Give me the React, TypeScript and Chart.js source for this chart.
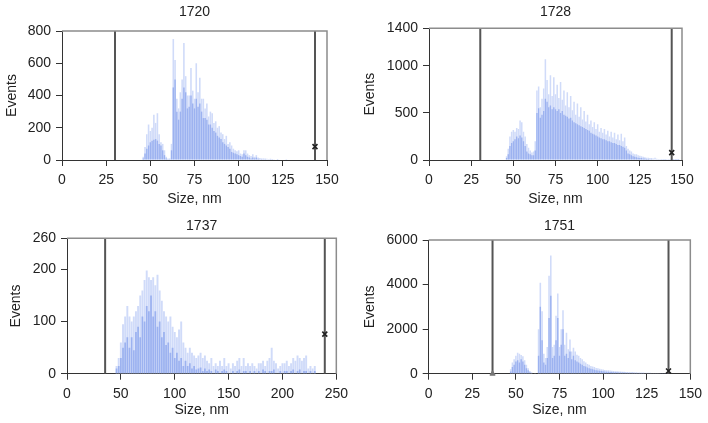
import React, { useEffect, useRef } from "react";
import { Chart, registerables } from "chart.js";

Chart.register(...registerables);

const FONT = "'Liberation Sans', Arial, Helvetica, sans-serif";

// ---------------- Data ----------------
// 1720: 1-nm bins starting at 46 nm
const start1720 = 46;
const core1720 = [
  10, 40, 70, 90, 110, 120, 125, 130, 120, 100,
  90, 60, 30, 10, 5, 5, 60, 450, 500, 300,
  250, 300, 380, 450, 420, 320, 330, 400, 350, 320,
  380, 330, 350, 300, 260, 260, 250, 220, 220, 200,
  180, 170, 150, 140, 130, 110, 100, 90, 80, 70,
  50, 45, 40, 35, 30, 25, 20, 40, 30, 20,
  15, 10, 15, 10, 15, 8, 5, 5, 4, 4,
  3, 3, 2, 2, 0, 0, 2, 0, 0, 0,
  0, 0, 0, 0, 0, 0, 0,
];
const peak1720 = [
  20, 80, 160, 220, 180, 200, 280, 230, 290, 160,
  110, 100, 60, 20, 10, 10, 100, 750, 620, 380,
  320, 420, 500, 725, 520, 400, 400, 570, 430, 380,
  600, 420, 510, 380, 380, 320, 350, 270, 300, 290,
  230, 240, 200, 210, 170, 160, 130, 150, 100, 110,
  90, 70, 60, 55, 60, 40, 35, 60, 60, 40,
  30, 25, 35, 20, 30, 15, 12, 10, 10, 10,
  8, 6, 8, 5, 4, 3, 6, 3, 0, 3,
  0, 6, 0, 3, 0, 0, 3,
];
const gates1720 = [30, 143.2];
const marker1720 = [{ x: 143.2, y: 83 }];
const yTicks1720 = [0, 200, 400, 600, 800];

// 1728: 1-nm bins starting at 46 nm
const start1728 = 46;
const core1728 = [
  20, 60, 150, 180, 200, 220, 250, 230, 260, 240,
  200, 150, 90, 70, 60, 50, 50, 100, 500, 550,
  450, 480, 520, 650, 620, 560, 580, 540, 560, 540,
  520, 540, 500, 520, 480, 470, 460, 440, 450, 420,
  400, 390, 380, 370, 360, 350, 340, 330, 320, 310,
  290, 280, 270, 260, 250, 240, 230, 220, 220, 210,
  200, 200, 190, 180, 180, 170, 160, 160, 150, 140,
  130, 100, 70, 60, 50, 40, 35, 30, 25, 20,
  20, 15, 15, 10, 10, 8, 8, 6, 6, 5,
  5, 4, 3, 3, 3, 2, 2, 2, 2, 1,
  1, 1, 1,
];
const peak1728 = [
  40, 120, 250, 300, 320, 300, 340, 330, 420, 400,
  300, 250, 170, 130, 100, 80, 90, 200, 740, 780,
  560, 650, 760, 1070, 850, 700, 900, 680, 880, 700,
  800, 660, 830, 640, 740, 580, 720, 560, 680, 530,
  620, 480, 600, 460, 560, 430, 520, 410, 480, 380,
  420, 350, 400, 330, 380, 300, 340, 290, 330, 270,
  310, 250, 300, 240, 290, 220, 270, 210, 280, 200,
  240, 150, 120, 100, 90, 70, 60, 60, 50, 45,
  40, 35, 30, 25, 25, 20, 20, 15, 25, 12,
  10, 10, 8, 8, 10, 6, 6, 8, 6, 5,
  5, 8, 5,
];
const gates1728 = [30.4, 143.9];
const marker1728 = [{ x: 143.9, y: 78 }];
const yTicks1728 = [0, 500, 1000, 1400];

// 1737: 2-nm bins starting at 46 nm
const start1737 = 46;
const core1737 = [
  10, 15, 30, 50, 60, 70, 50, 70, 45, 80,
  90, 70, 110, 100, 130, 120, 150, 110, 120, 90,
  100, 70, 80, 55, 60, 40, 50, 30, 40, 25,
  30, 15, 25, 15, 20, 10, 15, 8, 10, 12,
  5, 10, 5, 8, 5, 0, 8, 5, 0, 5,
  8, 5, 0, 0, 5, 0, 5, 8, 0, 5,
  5, 0, 5, 0, 5, 0, 5, 0, 8, 5,
  0, 5, 5, 8, 0, 0, 5, 0, 5, 5,
  0, 5, 8, 0, 5, 8, 0, 5, 5, 0,
  5, 0, 5,
];
const peak1737 = [
  15, 30, 60, 95, 110, 130, 110, 100, 110, 120,
  130, 150, 160, 180, 198, 185, 180, 185, 170, 190,
  160, 140, 120, 110, 100, 110, 90, 80, 70, 85,
  100, 60, 50, 40, 50, 40, 35, 30, 35, 40,
  30, 35, 25, 20, 30, 15, 20, 15, 25, 15,
  30, 15, 20, 10, 20, 15, 25, 30, 15, 30,
  15, 20, 15, 20, 15, 10, 20, 20, 25, 15,
  25, 30, 50, 25, 20, 10, 15, 20, 20, 25,
  15, 20, 30, 25, 35, 30, 25, 30, 35, 10,
  15, 10, 15,
];
const gates1737 = [35.4, 239.3];
const marker1737 = [{ x: 239.3, y: 76 }];
const yTicks1737 = [0, 100, 200, 260];

// 1751: 1-nm bins starting at 47 nm
const start1751 = 47;
const core1751 = [
  100, 300, 400, 550, 600, 500, 650, 550, 400, 250,
  150, 60, 30, 0, 0, 0, 800, 3000, 1500, 500,
  400, 700, 2500, 3500, 700, 800, 1500, 2500, 800, 1300,
  2000, 800, 900, 700, 1000, 650, 800, 600, 550, 500,
  450, 400, 350, 320, 280, 250, 220, 200, 180, 160,
  140, 130, 120, 110, 100, 90, 85, 80, 75, 70,
  65, 60, 55, 55, 50, 50, 45, 45, 40, 40,
  38, 35, 35, 32, 30, 30, 28, 25, 25, 22,
  20, 20, 18, 18, 15, 15, 12, 12, 10, 10, 8,
];
const peak1751 = [
  200, 500, 650, 800, 940, 900, 840, 780, 600, 400,
  250, 120, 60, 20, 10, 20, 2000, 4080, 2800, 900,
  700, 1200, 4400, 5300, 1200, 1300, 2600, 3600, 1200, 2000,
  2850, 1300, 1840, 1100, 1540, 1000, 1170, 1000, 850, 800,
  700, 650, 560, 500, 430, 400, 350, 320, 300, 260,
  240, 220, 200, 190, 170, 160, 150, 140, 130, 120,
  110, 110, 100, 95, 90, 85, 80, 75, 70, 70,
  65, 60, 60, 55, 55, 50, 50, 45, 45, 40,
  40, 35, 35, 30, 30, 28, 25, 25, 20, 20, 18,
];
const gates1751 = [36.6, 137.5];
const marker1751 = [{ x: 137.5, y: 120 }];
const baseMarker1751 = [{ x: 36.6, y: 0 }];
const yTicks1751 = [0, 2000, 4000, 6000];

// ---------------- Chart helpers ----------------
const framePlugin = {
  id: "frameTopRight",
  afterDatasetsDraw(chart: any) {
    const { ctx, chartArea: a } = chart;
    ctx.save();
    ctx.strokeStyle = "#8c8c8c";
    ctx.lineWidth = 1.5;
    ctx.beginPath();
    ctx.moveTo(a.left, a.top);
    ctx.lineTo(a.right, a.top);
    ctx.lineTo(a.right, a.bottom);
    ctx.stroke();
    ctx.restore();
  },
};

type PanelCfg = {
  title: string;
  start: number;
  step: number;
  core: number[];
  peak: number[];
  gates: number[];
  marker: { x: number; y: number }[];
  baseMarker?: { x: number; y: number }[];
  xMax: number;
  xStep: number;
  yTicks: number[];
  layout: {
    left: number;
    top: number;
    padLeft: number;
    padRight: number;
    yW: number;
    xH: number;
    tTop: number;
    tBottom: number;
  };
};

const panels: PanelCfg[] = [
  {
    title: "1720", start: start1720, step: 1, core: core1720, peak: peak1720,
    gates: gates1720, marker: marker1720, xMax: 150, xStep: 25, yTicks: yTicks1720,
    layout: { left: 0, top: 0, padLeft: 0, padRight: 27, yW: 62, xH: 52, tTop: 3.3, tBottom: 10.9 },
  },
  {
    title: "1728", start: start1728, step: 1, core: core1728, peak: peak1728,
    gates: gates1728, marker: marker1728, xMax: 150, xStep: 25, yTicks: yTicks1728,
    layout: { left: 354, top: 0, padLeft: 4, padRight: 26, yW: 71, xH: 52, tTop: 3.9, tBottom: 7.6 },
  },
  {
    title: "1737", start: start1737, step: 2, core: core1737, peak: peak1737,
    gates: gates1737, marker: marker1737, xMax: 250, xStep: 50, yTicks: yTicks1737,
    layout: { left: 0, top: 211, padLeft: 4, padRight: 14.7, yW: 63, xH: 49.3, tTop: 6.6, tBottom: 3.9 },
  },
  {
    title: "1751", start: start1751, step: 1, core: core1751, peak: peak1751,
    gates: gates1751, marker: marker1751, baseMarker: baseMarker1751, xMax: 150, xStep: 25, yTicks: yTicks1751,
    layout: { left: 354, top: 211, padLeft: 4, padRight: 10.7, yW: 70.7, xH: 49.3, tTop: 6.6, tBottom: 5.6 },
  },
];

const W = 354;
const H = 212;

function Panel({ cfg }: { cfg: PanelCfg }) {
  const ref = useRef<HTMLCanvasElement | null>(null);

  useEffect(() => {
    if (!ref.current) return;
    const yMax = cfg.yTicks[cfg.yTicks.length - 1];
    const toPts = (vals: number[]) => vals.map((y, i) => ({ x: cfg.start + i * cfg.step, y }));
    const L = cfg.layout;
    const tickFont = { family: FONT, size: 14 };
    const datasets: any[] = [];
    cfg.gates.forEach((g) => {
      datasets.push({
        type: "line",
        data: [{ x: g, y: 0 }, { x: g, y: yMax }],
        borderColor: "#555555",
        borderWidth: 2,
        pointRadius: 0,
        order: 0,
      });
    });
    datasets.push({
      type: "line",
      data: cfg.marker,
      showLine: false,
      pointStyle: "crossRot",
      pointRadius: 3.5,
      borderColor: "#222222",
      borderWidth: 1.6,
      order: -1,
      clip: false,
    });
    if (cfg.baseMarker) {
      datasets.push({
        type: "line",
        data: cfg.baseMarker,
        showLine: false,
        pointStyle: "triangle",
        pointRadius: 3,
        backgroundColor: "#777777",
        borderColor: "#777777",
        borderWidth: 1,
        order: -1,
        clip: false,
      });
    }
    datasets.push({
      type: "bar",
      data: toPts(cfg.core),
      backgroundColor: "#9cb2f0",
      borderWidth: 0,
      barPercentage: 0.8,
      categoryPercentage: 1,
      grouped: false,
      order: 1,
    });
    datasets.push({
      type: "bar",
      data: toPts(cfg.peak),
      backgroundColor: "#d0dbf9",
      borderWidth: 0,
      barPercentage: 0.9,
      categoryPercentage: 1,
      grouped: false,
      order: 2,
    });

    const chart = new Chart(ref.current, {
      type: "bar",
      data: { datasets },
      plugins: [framePlugin],
      options: {
        animation: false,
        responsive: false,
        devicePixelRatio: 1,
        events: [],
        layout: { padding: { left: L.padLeft, right: L.padRight, top: 0, bottom: 0 } },
        plugins: {
          legend: { display: false },
          tooltip: { enabled: false },
          title: {
            display: true,
            fullSize: false,
            text: cfg.title,
            color: "#222222",
            font: { family: FONT, size: 14, weight: "normal" as any },
            padding: { top: L.tTop, bottom: L.tBottom },
          },
        },
        scales: {
          x: {
            type: "linear",
            min: 0,
            max: cfg.xMax,
            offset: false,
            ticks: {
              stepSize: cfg.xStep, color: "#222222", font: tickFont, padding: 6, maxRotation: 0, autoSkip: false,
              callback: (v: any) => String(v),
            },
            grid: { display: true, drawOnChartArea: false, drawTicks: true, tickLength: 6, color: "#333333", offset: false },
            border: { display: true, color: "#333333", width: 1 },
            title: { display: true, text: "Size, nm", color: "#222222", font: tickFont, padding: { top: 0, bottom: 4 } },
            afterFit: (s: any) => { s.height = L.xH; },
          } as any,
          y: {
            type: "linear",
            min: 0,
            max: yMax,
            afterBuildTicks: (s: any) => { s.ticks = cfg.yTicks.map((v) => ({ value: v })); },
            ticks: { color: "#222222", font: tickFont, padding: 5, callback: (v: any) => String(v) },
            grid: { display: true, drawOnChartArea: false, drawTicks: true, tickLength: 6, color: "#333333" },
            border: { display: true, color: "#333333", width: 1 },
            title: { display: true, text: "Events", color: "#222222", font: tickFont, padding: { top: 4, bottom: 0 } },
            afterFit: (s: any) => { s.width = L.yW; },
          } as any,
        },
      },
    });
    return () => chart.destroy();
  }, [cfg]);

  return (
    <canvas
      ref={ref}
      width={W}
      height={H}
      style={{ position: "absolute", left: cfg.layout.left, top: cfg.layout.top, width: W, height: H }}
    />
  );
}

export default function App() {
  return (
    <div style={{ position: "fixed", left: 0, top: 0, width: 708, height: 423, background: "#ffffff", overflow: "hidden" }}>
      {panels.map((p) => (
        <Panel key={p.title} cfg={p} />
      ))}
    </div>
  );
}
